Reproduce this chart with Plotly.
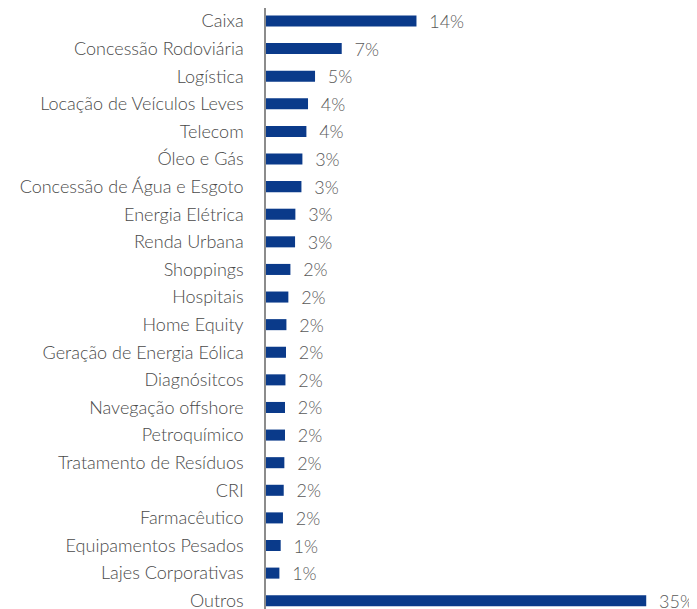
import plotly.graph_objects as go

categorias = [
    "Caixa", "Concessão Rodoviária", "Logística", "Locação de Veículos Leves",
    "Telecom", "Óleo e Gás", "Concessão de Água e Esgoto", "Energia Elétrica",
    "Renda Urbana", "Shoppings", "Hospitais", "Home Equity",
    "Geração de Energia Eólica", "Diagnósitcos", "Navegação offshore",
    "Petroquímico", "Tratamento de Resíduos", "CRI", "Farmacêutico",
    "Equipamentos Pesados", "Lajes Corporativas", "Outros",
]
valores = [
    13.93, 7.01, 4.54, 3.89, 3.74, 3.37, 3.28, 2.72, 2.69, 2.26, 2.07, 1.89,
    1.85, 1.80, 1.76, 1.76, 1.70, 1.64, 1.57, 1.36, 1.24, 35.2,
]

fig = go.Figure(go.Bar(
    x=valores,
    y=categorias,
    orientation="h",
    marker=dict(color="#0a3a8a", line=dict(width=0)),
    texttemplate="\u00a0\u00a0%{x:.0f}%",
    textposition="outside",
    constraintext="none",
    textfont=dict(family="Lato", size=18, color="#595959", weight=300),
    cliponaxis=False,
))

# the page body has an 8px margin, so the figure is sized to fit inside it
fig.update_layout(
    width=689,
    height=601,
    margin=dict(l=258, r=0, t=0, b=0),
    plot_bgcolor="white",
    paper_bgcolor="white",
    bargap=0.6,
    showlegend=False,
    font=dict(family="Lato", size=18, color="#4a4a4a"),
    xaxis=dict(range=[0, 39.9], visible=False, automargin=False),
    yaxis=dict(
        categoryorder="array",
        categoryarray=categorias,
        range=[21.3, -0.47],
        automargin=False,
        showline=True,
        linecolor="#8c8c8c",
        linewidth=1.5,
        showgrid=False,
        ticks="",
        ticklabelstandoff=17,
        tickfont=dict(family="Lato", size=18, color="#4a4a4a", weight=300),
    ),
)

fig.write_html("out.html")
